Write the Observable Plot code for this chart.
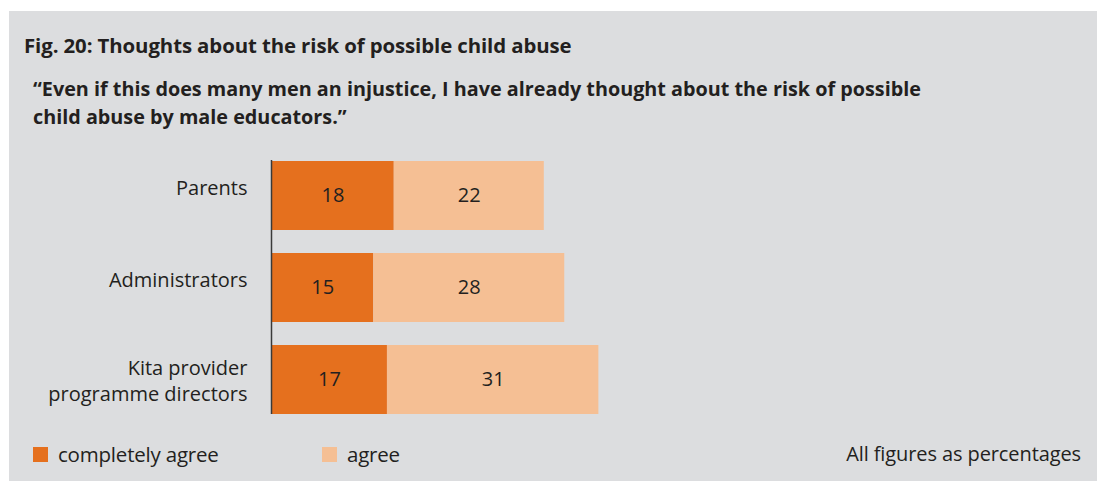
<!DOCTYPE html>
<html>
<head>
<meta charset="utf-8">
<script src="https://cdn.jsdelivr.net/npm/d3@7"></script>
<script src="https://cdn.jsdelivr.net/npm/@observablehq/plot@0.6"></script>
<style>
  html, body { margin: 0; padding: 0; background: #ffffff; }
  body { width: 1097px; height: 483px; position: relative; overflow: hidden; font-family: "Open Sans", sans-serif; color: #231f20; }
  #panel { position: absolute; left: 9px; top: 11px; width: 1088px; height: 470px; background: #dcdddf; }
  #title { position: absolute; left: 24px; top: 31px; font-size: 20.4px; line-height: 28px; font-weight: 700; white-space: nowrap; letter-spacing: -0.1px; }
  #subtitle { position: absolute; left: 33px; top: 75px; font-size: 19.8px; font-weight: 700; line-height: 28px; white-space: nowrap; }
  #chart { position: absolute; left: 0; top: 130px; }
  .sw { position: absolute; width: 15px; height: 15px; top: 447px; }
  .lt { position: absolute; top: 440px; font-size: 20.5px; line-height: 28px; white-space: nowrap; letter-spacing: -0.2px; }
  #note { position: absolute; right: 16px; top: 440px; font-size: 20px; line-height: 28px; white-space: nowrap; letter-spacing: -0.1px; }
</style>
</head>
<body>
<div id="panel"></div>
<div id="title">Fig. 20: Thoughts about the risk of possible child abuse</div>
<div id="subtitle">“Even if this does many men an injustice, I have already thought about the risk of possible<br>child abuse by male educators.”</div>
<div id="chart"></div>
<div id="legend"></div>
<div id="note">All figures as percentages</div>
<script>
const categories = ["Parents", "Administrators", "Kita provider\nprogramme directors"];
const completelyAgree = [18, 15, 17];
const agree = [22, 28, 31];
const seriesNames = ["completely agree", "agree"];
const seriesColors = ["#e5701e", "#f5bf94"];

const rows = [];
categories.forEach((c, i) => {
  rows.push({category: c, series: seriesNames[0], value: completelyAgree[i]});
  rows.push({category: c, series: seriesNames[1], value: agree[i]});
});

const singleLine = categories.filter(c => !c.includes("\n"));
const multiLine = categories.filter(c => c.includes("\n"));

const chart = Plot.plot({
  width: 1097,
  height: 310,
  marginLeft: 271,
  marginRight: 144,
  marginTop: 7.5,
  marginBottom: 3,
  style: {background: "transparent", fontFamily: "Open Sans, sans-serif", color: "#231f20"},
  x: {domain: [0, 100], axis: null},
  y: {domain: categories, padding: 0.255, label: null},
  color: {domain: seriesNames, range: seriesColors},
  marks: [
    Plot.barX(rows, Plot.stackX({x: "value", y: "category", fill: "series", z: "series", order: seriesNames})),
    Plot.text(rows, Plot.stackX({x: "value", y: "category", z: "series", text: d => String(d.value), order: seriesNames, fontSize: 20, fill: "#231f20"})),
    Plot.ruleX([0], {stroke: "#3a3a3a", strokeWidth: 1.5, insetTop: 22.5, insetBottom: 23}),
    Plot.axisY({ticks: singleLine, tickSize: 0, tickPadding: 24, fontSize: 20, label: null, dy: -7}),
    Plot.axisY({ticks: multiLine, tickSize: 0, tickPadding: 24, fontSize: 20, label: null, lineHeight: 1.3})
  ]
});
document.getElementById("chart").appendChild(chart);

const legend = document.getElementById("legend");
const lx = [33, 322];
seriesNames.forEach((s, i) => {
  const sw = document.createElement("div");
  sw.className = "sw";
  sw.style.left = lx[i] + "px";
  sw.style.background = seriesColors[i];
  legend.appendChild(sw);
  const t = document.createElement("div");
  t.className = "lt";
  t.style.left = (lx[i] + 25) + "px";
  t.textContent = s;
  legend.appendChild(t);
});
</script>
</body>
</html>
